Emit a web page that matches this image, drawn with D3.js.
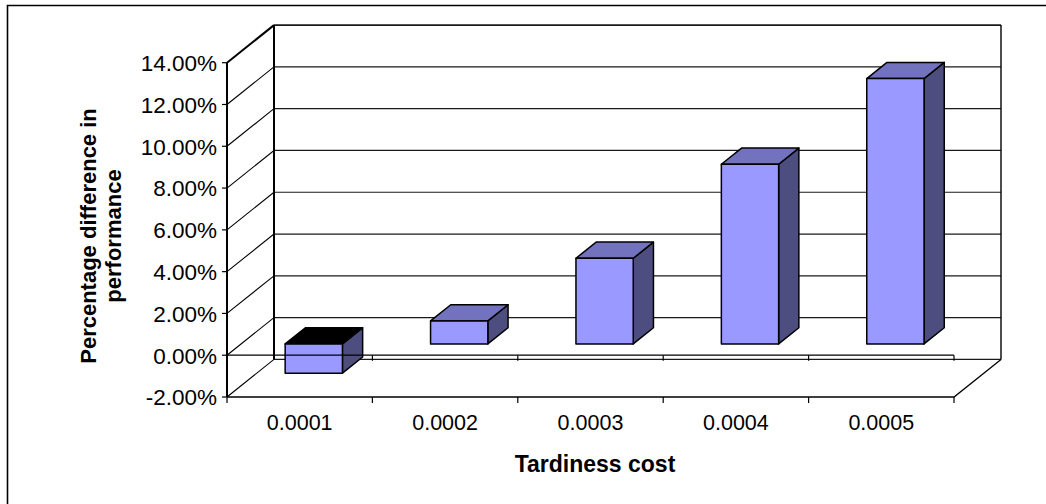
<!DOCTYPE html>
<html>
<head>
<meta charset="utf-8">
<script src="https://cdn.jsdelivr.net/npm/d3@7/dist/d3.min.js"></script>
<style>
  html, body { margin: 0; padding: 0; background: #fff; }
  svg { display: block; }
  text { font-family: "Liberation Sans", Arial, sans-serif; fill: #000; }
</style>
</head>
<body>
<svg id="chart" width="1046" height="504"></svg>
<script>
// Data
const categories = ["0.0001", "0.0002", "0.0003", "0.0004", "0.0005"];
const values = [-1.4, 1.1, 4.1, 8.6, 12.7];          // percent
const yTicks = [-2, 0, 2, 4, 6, 8, 10, 12, 14];
const yTitleLines = ["Percentage difference in", "performance"];
const xTitle = "Tardiness cost";

// Layout of the 3-D box
const W = 1046, H = 504;
const front = { left: 227, right: 954, top: 62.7, bottom: 397 };
const depth = [47, -37.6];             // offset from front plane to back wall
const barDepth = [0.30, 0.73];         // bar front / back as fraction of depth
const barWidthFrac = 0.394;

const svg = d3.select("#chart");

const x = d3.scaleBand().domain(categories).range([front.left, front.right]).padding(0);
const y = d3.scaleLinear().domain([-2, 14]).range([front.bottom, front.top]);

const P = (px, py, f) => [px + f * depth[0], py + f * depth[1]];
const line = d3.line();

// Frame around the chart
svg.append("path")
  .attr("d", line([[7.5, H], [7.5, 5.5], [W, 5.5]]))
  .attr("fill", "none").attr("stroke", "#000").attr("stroke-width", 1.6);

const g = svg.append("g");

// Back wall gridlines
const yMin = y.domain()[0], yMax = y.domain()[1];
yTicks.forEach(t => {
  const a = P(front.left, y(t), 1), b = P(front.right, y(t), 1);
  g.append("path").attr("d", line([a, b]))
    .attr("stroke", "#1a1a1a").attr("stroke-width", t === yMax ? 1.8 : 1.2).attr("fill", "none");
});
// Back wall vertical edges
g.append("path").attr("d", line([P(front.left, y(yMax), 1), P(front.left, y(yMin), 1)]))
  .attr("stroke", "#000").attr("stroke-width", 2).attr("fill", "none");
g.append("path").attr("d", line([P(front.right, y(yMax), 1), P(front.right, y(yMin), 1)]))
  .attr("stroke", "#000").attr("stroke-width", 1.4).attr("fill", "none");

// Side wall diagonals
yTicks.forEach(t => {
  g.append("path").attr("d", line([[front.left, y(t)], P(front.left, y(t), 1)]))
    .attr("stroke", "#000").attr("stroke-width", t === yMax ? 2 : 1.1).attr("fill", "none");
});

// Floor
g.append("path")
  .attr("d", line([[front.left, y(yMin)], [front.right, y(yMin)], P(front.right, y(yMin), 1)]))
  .attr("stroke", "#000").attr("stroke-width", 1.3).attr("fill", "none");

// Value axis
g.append("path").attr("d", line([[front.left, y(yMax)], [front.left, y(yMin)]]))
  .attr("stroke", "#000").attr("stroke-width", 2).attr("fill", "none");
yTicks.forEach(t => {
  g.append("path").attr("d", line([[front.left - 5, y(t)], [front.left, y(t)]]))
    .attr("stroke", "#000").attr("stroke-width", 1.2);
});
svg.append("g").selectAll("text").data(yTicks).join("text")
  .attr("x", 217).attr("y", d => y(d)).attr("dy", "0.37em")
  .attr("text-anchor", "end").attr("font-size", 22.5)
  .text(d => d.toFixed(2) + "%");

// Bars
const bw = x.bandwidth() * barWidthFrac;
const bars = svg.append("g");
categories.forEach((c, i) => {
  const v = values[i];
  const cx = x(c) + x.bandwidth() / 2;
  const x0 = cx - bw / 2, x1 = cx + bw / 2;
  const yTop = y(Math.max(v, 0)), yBot = y(Math.min(v, 0));
  const f0 = barDepth[0], f1 = barDepth[1];
  const fTL = P(x0, yTop, f0), fTR = P(x1, yTop, f0), fBR = P(x1, yBot, f0), fBL = P(x0, yBot, f0);
  const bTL = P(x0, yTop, f1), bTR = P(x1, yTop, f1), bBR = P(x1, yBot, f1);
  const style = sel => sel.attr("stroke", "#000").attr("stroke-width", 1.5).attr("stroke-linejoin", "round");
  bars.append("path").attr("d", line([fTR, bTR, bBR, fBR]) + "Z").attr("fill", "#4D4D80").call(style);
  bars.append("path").attr("d", line([fTL, bTL, bTR, fTR]) + "Z")
    .attr("fill", v < 0 ? "#000" : "#7272BF").call(style);
  bars.append("path").attr("d", line([fTL, fTR, fBR, fBL]) + "Z").attr("fill", "#9999FF").call(style);
});

// Category axis at zero on the front plane, plus tick marks on the floor edge
const bounds = categories.map(c => x(c)).concat([front.right]);
svg.append("path").attr("d", line([[front.left, y(0)], [front.right, y(0)]]))
  .attr("stroke", "#000").attr("stroke-width", 1.3).attr("fill", "none");
bounds.forEach(bx => {
  svg.append("path").attr("d", line([[bx, y(0)], [bx, y(0) + 5.5]]))
    .attr("stroke", "#000").attr("stroke-width", 1.2);
  svg.append("path").attr("d", line([[bx, y(yMin)], [bx, y(yMin) + 6]]))
    .attr("stroke", "#000").attr("stroke-width", 1.2);
});

// Category labels
svg.append("g").selectAll("text").data(categories).join("text")
  .attr("x", d => x(d) + x.bandwidth() / 2).attr("y", 430)
  .attr("text-anchor", "middle").attr("font-size", 21.5)
  .text(d => d);

// Axis titles
svg.append("text").attr("x", 595).attr("y", 471.5)
  .attr("text-anchor", "middle").attr("font-size", 23).attr("font-weight", "bold")
  .text(xTitle);

const yt = svg.append("text").attr("transform", "translate(0,236) rotate(-90)")
  .attr("text-anchor", "middle").attr("font-size", 22).attr("font-weight", "bold");
yTitleLines.forEach((s, i) => {
  yt.append("tspan").attr("x", 0).attr("y", i === 0 ? 96 : 121).text(s);
});
</script>
</body>
</html>
